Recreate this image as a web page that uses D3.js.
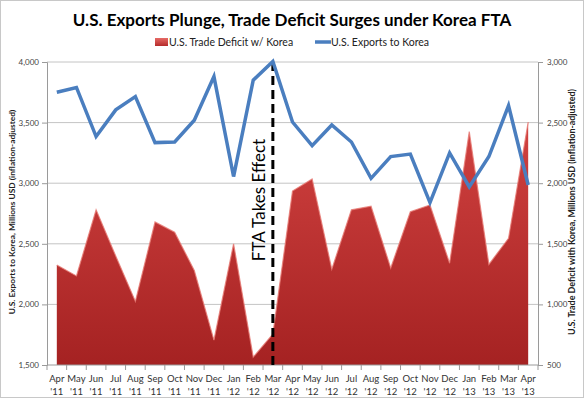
<!DOCTYPE html>
<html><head><meta charset="utf-8">
<script src="https://cdn.jsdelivr.net/npm/d3@7"></script>
<style>
html,body{margin:0;padding:0;background:#fff;}
svg{display:block;font-family:Lato,"Open Sans",sans-serif;}
</style></head>
<body>
<svg id="chart" width="584" height="398"></svg>
<script>
const months = ["Apr","May","Jun","Jul","Aug","Sep","Oct","Nov","Dec","Jan","Feb","Mar","Apr","May","Jun","Jul","Aug","Sep","Oct","Nov","Dec","Jan","Feb","Mar","Apr"];
const years = ["'11","'11","'11","'11","'11","'11","'11","'11","'11","'12","'12","'12","'12","'12","'12","'12","'12","'12","'12","'12","'12","'13","'13","'13","'13"];
const exportsToKorea = [3750,3790,3385,3605,3715,3335,3340,3520,3880,3055,3850,4005,3505,3310,3480,3340,3040,3220,3240,2840,3250,2970,3220,3640,2985];
const tradeDeficit = [1325,1235,1780,1400,1025,1680,1595,1280,705,1500,565,755,1935,2035,1290,1780,1810,1300,1765,1820,1340,2425,1330,1545,2505];
const leftTicks = [1500,2000,2500,3000,3500,4000];
const rightTicks = [500,1000,1500,2000,2500,3000];
const ftaMonthIndex = 11;

const svg = d3.select("#chart");
const W = 584, H = 398;
const m = {left:47, right:538, top:62, bottom:365};

svg.append("rect").attr("x",0.5).attr("y",0.5).attr("width",W-1).attr("height",H-1)
  .attr("fill","#fff").attr("stroke","#c8c8c8");

const idx = d3.range(months.length);
const x = d3.scaleBand().domain(idx).range([m.left, m.right]);
const cx = i => x(i) + x.bandwidth()/2;
const yL = d3.scaleLinear().domain([1500,4000]).range([m.bottom, m.top]);
const yR = d3.scaleLinear().domain([500,3000]).range([m.bottom, m.top]);

const defs = svg.append("defs");
const grad = defs.append("linearGradient").attr("id","redgrad")
  .attr("gradientUnits","userSpaceOnUse").attr("x1",0).attr("x2",0).attr("y1",m.top).attr("y2",m.bottom);
grad.append("stop").attr("offset","0%").attr("stop-color","#dc4a48");
grad.append("stop").attr("offset","100%").attr("stop-color","#a52222");
const grad2 = defs.append("linearGradient").attr("id","redgrad2").attr("x1",0).attr("y1",0).attr("x2",0).attr("y2",1);
grad2.append("stop").attr("offset","0%").attr("stop-color","#e66a66");
grad2.append("stop").attr("offset","100%").attr("stop-color","#b52b2b");

// gridlines
svg.append("g").selectAll("line").data(leftTicks.filter(d=>d>1500)).join("line")
  .attr("x1",m.left).attr("x2",m.right).attr("y1",d=>yL(d)).attr("y2",d=>yL(d))
  .attr("stroke","#c4c4c4").attr("stroke-width",1);

// area
const area = d3.area().x((d,i)=>cx(i)).y0(m.bottom).y1(d=>yR(d));
svg.append("path").datum(tradeDeficit).attr("d",area).attr("fill","url(#redgrad)");
const topLine = d3.line().x((d,i)=>cx(i)).y(d=>yR(d));
svg.append("path").datum(tradeDeficit).attr("d",topLine).attr("fill","none")
  .attr("stroke","#e77a74").attr("stroke-width",1.2).attr("opacity",0.8);

// axes
const axisColor = "#9a9a9a";
const xAxis = svg.append("g").attr("transform",`translate(0,${m.bottom})`);
xAxis.append("line").attr("x1",m.left).attr("x2",m.right).attr("stroke",axisColor);
xAxis.selectAll("line.t").data(d3.range(months.length+1)).join("line").attr("class","t")
  .attr("x1",i=>i<months.length?x(i):m.right).attr("x2",i=>i<months.length?x(i):m.right)
  .attr("y1",0).attr("y2",5).attr("stroke",axisColor);
const xl = xAxis.selectAll("text").data(idx).join("text")
  .attr("x",i=>cx(i)).attr("text-anchor","middle").attr("font-size",9.5).attr("fill","#333");
xl.append("tspan").attr("x",i=>cx(i)).attr("y",17).text(i=>months[i]);
xl.append("tspan").attr("x",i=>cx(i)).attr("y",30).text(i=>years[i]);

const gL = svg.append("g").attr("transform",`translate(${m.left},0)`)
  .call(d3.axisLeft(yL).tickValues(leftTicks).tickSize(5).tickPadding(3).tickFormat(d3.format(",")));
gL.select(".domain").attr("stroke",axisColor);
gL.selectAll(".tick line").attr("stroke",axisColor);
gL.selectAll("text").attr("font-size",8).attr("fill","#444").attr("font-family","Lato,sans-serif");

const gR = svg.append("g").attr("transform",`translate(${m.right},0)`)
  .call(d3.axisRight(yR).tickValues(rightTicks).tickSize(5).tickPadding(4).tickFormat(d3.format(",")));
gR.select(".domain").attr("stroke",axisColor);
gR.selectAll(".tick line").attr("stroke",axisColor);
gR.selectAll("text").attr("font-size",8).attr("fill","#444").attr("font-family","Lato,sans-serif");

// FTA line
svg.append("line").attr("x1",cx(ftaMonthIndex)).attr("x2",cx(ftaMonthIndex))
  .attr("y1",m.top).attr("y2",m.bottom).attr("stroke","#000").attr("stroke-width",3)
  .attr("stroke-dasharray","9,5");

// exports line
const line = d3.line().x((d,i)=>cx(i)).y(d=>yL(d));
svg.append("path").datum(exportsToKorea).attr("d",line).attr("fill","none")
  .attr("stroke","#4a7ebf").attr("stroke-width",3.5).attr("stroke-linejoin","miter");

// FTA label
svg.append("text").attr("transform",`translate(${cx(ftaMonthIndex)-8},200) rotate(-90)`)
  .attr("text-anchor","middle").attr("font-size",17).attr("fill","#000").text("FTA Takes Effect");

// axis titles
svg.append("text").attr("transform",`translate(15,212) rotate(-90)`).attr("text-anchor","middle")
  .attr("font-size",8.4).attr("font-weight","bold").attr("fill","#222")
  .text("U.S. Exports to Korea, Millions USD (inflation-adjusted)");
svg.append("text").attr("transform",`translate(575,212) rotate(-90)`).attr("text-anchor","middle")
  .attr("font-size",8.9).attr("font-weight","bold").attr("fill","#222")
  .text("U.S. Trade Deficit with Korea, Millions USD (inflation-adjusted)");

// title
svg.append("text").attr("x",292).attr("y",26).attr("text-anchor","middle")
  .attr("font-size",17).attr("font-weight","bold").attr("fill","#000")
  .text("U.S. Exports Plunge, Trade Deficit Surges under Korea FTA");

// legend
const lg = svg.append("g");
lg.append("rect").attr("x",155).attr("y",38).attr("width",13).attr("height",8).attr("fill","url(#redgrad2)");
lg.append("text").attr("x",169).attr("y",46).attr("font-size",10.5).attr("fill","#222").text("U.S. Trade Deficit w/ Korea");
lg.append("line").attr("x1",315).attr("x2",331).attr("y1",42).attr("y2",42).attr("stroke","#4a7ebf").attr("stroke-width",3.5);
lg.append("text").attr("x",331).attr("y",46).attr("font-size",10.5).attr("fill","#222").text("U.S. Exports to Korea");
</script>
</body></html>
